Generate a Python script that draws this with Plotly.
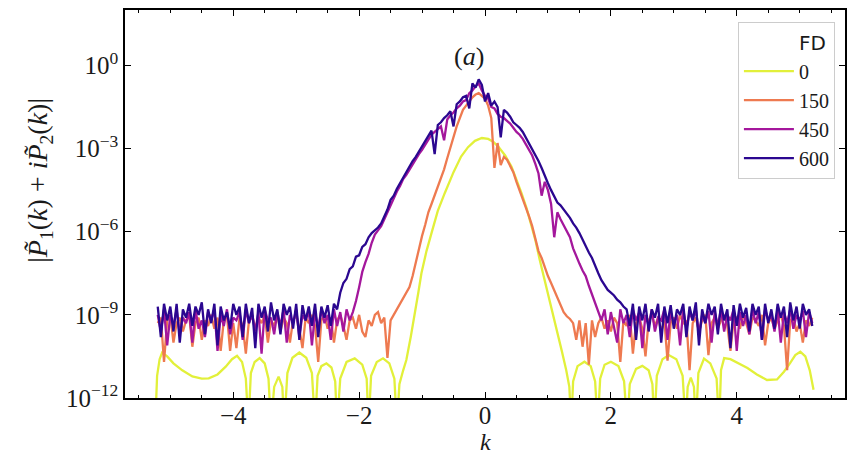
import numpy as np
import plotly.graph_objects as go

# ---------------- data (log10 of |P1~ + i P2~|) ----------------
STEP = 0.05  # sampling step in k of the noisy series

# FD = 600 (dark indigo)
BLUE_LEFT_K0 = -5.20
BLUE_LEFT = [-8.7, -9.8, -8.6, -9.2, -8.7, -9.6, -8.6, -10.0, -8.8, -9.1,
             -8.6, -9.4, -8.7, -9.0, -8.55, -9.7, -8.8, -9.3, -8.6, -10.1,
             -8.7, -9.2, -8.9, -9.5, -8.6, -9.0, -8.7, -9.8, -8.6, -9.3,
             -8.75, -10.2, -8.6, -9.1, -8.7, -9.6, -8.55, -9.2, -8.8, -9.7,
             -8.6, -9.0, -8.7, -9.5, -8.6, -9.9, -8.65, -9.2, -8.7, -9.4,
             -8.6, -9.8, -8.7, -9.1, -8.65, -9.4, -8.6, -8.8]
BLUE_PEAK_K0 = -2.30
BLUE_PEAK = [-8.2, -7.85, -7.7, -7.35, -7.25, -6.9, -6.85, -6.55, -6.45, -6.2,
             -6.05, -5.95, -5.85, -5.7, -5.45, -5.2, -4.85, -4.7, -4.45, -4.25,
             -4.0, -3.85, -3.65, -3.45, -3.3, -3.1, -2.95, -2.75, -2.55, -2.35,
             -3.2, -2.15, -2.05, -1.9, -1.8, -1.65, -2.2, -1.4, -1.3, -1.15,
             -1.1, -1.55, -0.65, -0.8, -0.5, -0.7, -1.3, -1.0, -1.45, -1.3,
             -1.5, -2.6, -1.6, -1.7, -1.85, -2.05, -2.15, -2.25, -2.4, -2.6,
             -2.8, -3.0, -3.2, -3.45, -3.7, -4.0, -4.25, -4.5, -4.7, -4.95,
             -5.05, -5.2, -5.35, -5.5, -5.7, -5.85, -6.05, -6.3, -6.5, -6.75,
             -6.95, -7.25, -7.5, -7.75, -7.95, -8.1, -8.2, -8.3, -8.45, -8.55, -8.7]
BLUE_RIGHT_K0 = 2.25
BLUE_RIGHT = [-8.8, -9.4, -8.6, -9.9, -8.7, -9.2, -8.6, -9.6, -8.8, -9.1,
              -8.6, -10.0, -8.7, -9.3, -8.65, -9.5, -8.8, -9.0, -8.6, -9.8,
              -8.7, -9.2, -8.55, -10.1, -8.8, -9.3, -8.6, -9.0, -8.7, -9.7,
              -8.6, -9.2, -8.8, -10.2, -8.65, -9.4, -8.6, -9.1, -8.75, -9.6,
              -8.6, -9.0, -8.7, -9.9, -8.6, -9.3, -8.8, -9.5, -8.6, -9.1,
              -8.7, -9.8, -8.55, -9.2, -8.7, -9.5, -8.6, -9.0, -8.8, -9.4]

# FD = 450 (magenta)
PURPLE_LEFT_K0 = -5.20
PURPLE_LEFT = [-9.0, -9.6, -8.8, -10.1, -9.0, -9.4, -8.8, -9.7, -9.1, -9.3,
               -8.9, -10.0, -8.8, -9.5, -9.2, -9.8, -8.9, -9.2, -8.8, -10.3,
               -9.0, -9.4, -8.8, -9.7, -9.1, -9.2, -8.9, -9.9, -8.8, -9.3,
               -9.0, -9.6, -8.9, -10.4, -8.8, -9.2, -9.1, -9.7, -8.9, -9.4,
               -8.8, -10.0, -9.0, -9.3, -8.8, -9.8, -9.0, -9.2, -8.85, -10.1,
               -8.9, -9.5, -8.8, -9.3, -9.0, -9.9, -8.8, -9.4, -8.9, -9.6,
               -8.8, -9.2]
PURPLE_PEAK_K0 = -2.10
PURPLE_PEAK = [-8.9, -8.5, -8.0, -7.45, -7.1, -6.8, -6.4, -6.1, -5.95, -5.8,
               -5.55, -5.3, -5.0, -4.8, -4.55, -4.35, -4.1, -3.95, -3.75, -3.55,
               -3.4, -3.2, -3.05, -2.85, -2.7, -2.5, -2.4, -2.3, -2.2, -2.7,
               -1.95, -1.8, -1.7, -1.55, -1.45, -1.3, -1.25, -1.0, -0.9, -0.75,
               -0.65, -0.9, -1.1, -1.2, -1.5, -1.55, -1.75, -1.85, -1.9, -2.0,
               -2.1, -2.25, -2.4, -2.5, -2.65, -2.85, -3.05, -3.25, -3.55, -3.9,
               -4.7, -4.2, -4.5, -5.0, -6.2, -5.3, -5.55, -5.75, -5.95, -6.2,
               -6.6, -6.9, -7.15, -7.4, -7.6, -7.95, -8.25, -8.6, -8.9]
PURPLE_RIGHT_K0 = 1.85
PURPLE_RIGHT = [-9.2, -8.8, -9.7, -8.9, -9.4, -10.0, -8.8, -9.3, -9.0, -9.8,
                -8.8, -9.2, -8.9, -10.2, -9.0, -9.4, -8.8, -9.6, -9.1, -9.2,
                -8.8, -9.9, -8.9, -9.3, -9.0, -10.1, -8.8, -9.5, -8.9, -9.2,
                -8.8, -9.7, -9.0, -9.3, -8.85, -10.0, -8.9, -9.4, -8.8, -9.6,
                -9.0, -9.2, -8.8, -10.3, -8.9, -9.4, -9.0, -9.7, -8.8, -9.3,
                -8.9, -9.9, -8.8, -9.2, -9.0, -9.6, -8.8, -10.0, -8.9, -9.3,
                -8.8, -9.5, -9.0, -9.2, -8.85, -9.8, -8.9, -9.3]

# FD = 150 (orange)
ORANGE_LEFT_K0 = -5.20
ORANGE_LEFT = [-9.3, -9.1, -10.7, -9.2, -9.0, -10.0, -9.3, -9.1, -9.6, -9.2,
               -9.0, -10.15, -9.3, -9.1, -9.9, -9.2, -9.4, -9.0, -9.5, -9.1,
               -10.3, -9.2, -9.0, -10.3, -9.3, -10.2, -9.1, -9.4, -10.4, -9.2,
               -9.0, -9.5, -9.1, -9.3, -9.0, -10.0, -9.2, -9.4, -9.0, -9.6,
               -9.1, -9.3, -10.0, -9.2, -9.0, -9.5, -10.2, -9.1, -9.3, -9.0,
               -9.4, -10.7, -9.2, -9.0, -9.5, -9.1, -10.0, -9.2, -9.0, -9.4,
               -9.9, -9.2, -9.1, -9.5, -9.0, -9.6, -9.8, -9.2, -9.4, -9.0,
               -8.9, -9.3, -9.1, -10.55, -9.2, -9.0, -8.85, -8.6]
ORANGE_PEAK_K0 = -1.30
ORANGE_PEAK = [-8.4, -8.2, -8.0, -7.6, -7.1, -6.6, -6.15, -5.75, -5.3, -5.0,
               -4.7, -4.4, -4.05, -3.75, -3.35, -2.95, -2.55, -2.2, -1.9, -1.6,
               -1.45, -1.3, -1.15, -1.05, -1.0, -1.1, -1.2, -1.45, -1.9, -3.7,
               -2.8, -3.6, -3.3, -3.4, -3.6, -3.85, -4.2, -4.5, -4.8, -5.15,
               -5.45, -5.8, -6.25, -6.7, -6.95, -7.3, -7.6, -7.85, -8.1, -8.4,
               -8.65, -8.9, -9.05]
ORANGE_RIGHT_K0 = 1.35
ORANGE_RIGHT = [-9.15, -9.3, -9.9, -9.2, -10.15, -9.3, -10.8, -9.2, -9.8, -9.3,
                -9.1, -9.5, -9.2, -9.6, -9.1, -9.3, -10.7, -9.2, -9.4, -9.0,
                -10.4, -9.3, -9.1, -9.5, -10.5, -9.2, -9.0, -9.4, -9.1, -9.6,
                -9.2, -10.65, -9.3, -9.1, -9.5, -9.0, -9.3, -9.2, -11.0, -9.3,
                -9.1, -9.6, -9.2, -9.0, -10.45, -9.3, -9.1, -9.5, -9.2, -9.0,
                -9.4, -10.3, -9.2, -9.1, -9.5, -9.0, -9.3, -9.7, -9.1, -9.2,
                -9.4, -9.0, -10.1, -9.3, -9.1, -9.5, -9.2, -9.0, -9.4, -11.0,
                -9.2, -9.1, -9.6, -9.3, -10.0, -9.2, -9.4, -9.1]

# FD = 0 (yellow): smooth main lobe with side lobes (k, log10 value)
YELLOW_K = [-5.24, -5.21, -5.17, -5.13, -5.05, -4.95, -4.81, -4.65, -4.50, -4.39,
            -4.25, -4.12, -4.02, -3.94, -3.86, -3.80, -3.76, -3.72, -3.66, -3.58,
            -3.50, -3.44, -3.40, -3.35, -3.28, -3.22, -3.19, -3.14, -3.06, -2.95,
            -2.84, -2.75, -2.70, -2.66, -2.60, -2.52, -2.44, -2.38, -2.35, -2.30,
            -2.20, -2.07, -1.95, -1.88, -1.85, -1.81, -1.72, -1.62, -1.52, -1.44,
            -1.40, -1.36, -1.30, -1.25, -1.18, -1.11, -1.06, -1.01, -0.93, -0.85,
            -0.75, -0.64, -0.50, -0.38, -0.27, -0.16, -0.05, 0.05, 0.13, 0.21,
            0.32, 0.42, 0.50, 0.58, 0.66, 0.73, 0.80, 0.87, 0.95, 1.03,
            1.10, 1.16, 1.22, 1.29, 1.34, 1.37, 1.40, 1.47, 1.58, 1.68,
            1.75, 1.79, 1.83, 1.90, 2.00, 2.12, 2.21, 2.26, 2.30, 2.40,
            2.50, 2.60, 2.66, 2.69, 2.73, 2.82, 2.92, 3.04, 3.14, 3.19,
            3.22, 3.27, 3.32, 3.35, 3.39, 3.48, 3.58, 3.68, 3.72, 3.75,
            3.80, 3.90, 4.03, 4.17, 4.32, 4.48, 4.64, 4.75, 4.85, 4.93,
            5.01, 5.09, 5.16, 5.22]
YELLOW_L = [-13.0, -11.2, -10.6, -10.36, -10.5, -10.75, -11.0, -11.22, -11.3, -11.29,
            -11.15, -10.87, -10.6, -10.48, -10.7, -11.3, -13.0, -11.1, -10.7, -10.56,
            -10.75, -11.3, -13.0, -11.6, -11.23, -11.6, -13.0, -11.1, -10.55, -10.36,
            -10.55, -11.1, -13.0, -11.2, -10.85, -10.75, -10.9, -11.4, -13.0, -11.3,
            -10.7, -10.57, -10.8, -11.3, -13.0, -11.2, -10.7, -10.57, -10.75, -11.3,
            -13.0, -11.5, -11.0, -10.63, -9.8, -8.94, -8.2, -7.5, -6.7, -6.05,
            -5.25, -4.61, -3.85, -3.29, -2.95, -2.72, -2.62, -2.65, -2.75, -2.93,
            -3.25, -3.65, -4.1, -4.61, -5.15, -5.69, -6.3, -7.02, -7.75, -8.46,
            -9.1, -9.66, -10.3, -10.99, -11.6, -13.0, -11.4, -10.85, -10.69, -10.85,
            -11.4, -13.0, -11.3, -10.8, -10.69, -10.85, -11.4, -13.0, -11.5, -10.95,
            -10.84, -11.0, -11.5, -13.0, -11.2, -10.6, -10.45, -10.6, -11.2, -13.0,
            -11.6, -11.26, -11.6, -13.0, -11.1, -10.58, -10.75, -11.3, -13.0, -11.0,
            -10.56, -10.6, -10.75, -10.92, -11.15, -11.35, -11.33, -11.05, -10.73, -10.45,
            -10.33, -10.5, -11.0, -11.7]

FD_LABELS = ["0", "150", "450", "600"]
COLORS = ["#e2f03a", "#ee7a50", "#a4179c", "#2b0790"]

X_TICKS = [-4, -2, 0, 2, 4]
Y_TICKS = [1e-12, 1e-9, 1e-6, 1e-3, 1e0]
Y_TICK_TEXT = ["10<sup>\u221212</sup>", "10<sup>\u22129</sup>", "10<sup>\u22126</sup>",
               "10<sup>\u22123</sup>", "10<sup>0</sup>"]


def build(segments):
    ks, vs = [], []
    for k0, vals in segments:
        for j, v in enumerate(vals):
            ks.append(round(k0 + STEP * j, 3))
            vs.append(10.0 ** v)
    return ks, vs


yk, yv = YELLOW_K, [10.0 ** v for v in YELLOW_L]
ok, ov = build([(ORANGE_LEFT_K0, ORANGE_LEFT), (ORANGE_PEAK_K0, ORANGE_PEAK), (ORANGE_RIGHT_K0, ORANGE_RIGHT)])
pk, pv = build([(PURPLE_LEFT_K0, PURPLE_LEFT), (PURPLE_PEAK_K0, PURPLE_PEAK), (PURPLE_RIGHT_K0, PURPLE_RIGHT)])
bk, bv = build([(BLUE_LEFT_K0, BLUE_LEFT), (BLUE_PEAK_K0, BLUE_PEAK), (BLUE_RIGHT_K0, BLUE_RIGHT)])

SERIF = "Liberation Serif"
TXT = "#1a1a1a"

fig = go.Figure()
# legend header entry "FD" (no visible line)
fig.add_trace(go.Scatter(x=[None], y=[None], mode="lines",
                         name='<span style="font-family:DejaVu Sans">FD</span>',
                         line=dict(color="rgba(0,0,0,0)", width=2), legendgroup="g0", hoverinfo="skip"))
for i, (kx, vy) in enumerate([(yk, yv), (ok, ov), (pk, pv), (bk, bv)]):
    fig.add_trace(go.Scatter(x=kx, y=vy, mode="lines", name=FD_LABELS[i],
                             line=dict(color=COLORS[i], width=2.3), legendgroup="g%d" % (i + 1)))

axis_common = dict(showline=True, linecolor="black", linewidth=1.5, mirror="allticks",
                   ticks="inside", ticklen=6, tickwidth=1.2, tickcolor="black",
                   showgrid=False, zeroline=False)

fig.update_xaxes(range=[-5.72, 5.72], tickvals=X_TICKS, ticklabelstandoff=-6,
                 tickfont=dict(family=SERIF, size=25, color=TXT),
                 minor=dict(dtick=0.5, tick0=0, ticks="inside", ticklen=3, tickcolor="black", showgrid=False),
                 **axis_common)
fig.update_yaxes(type="log", range=[-12, 2], tickvals=Y_TICKS, ticktext=Y_TICK_TEXT,
                 tickfont=dict(family=SERIF, size=25, color=TXT), **axis_common)

fig.update_layout(
    width=853, height=457,
    margin=dict(l=125, r=6, t=10, b=59),
    plot_bgcolor="white", paper_bgcolor="white",
    showlegend=True,
    legend=dict(x=0.986, y=0.97, xanchor="right", yanchor="top",
                bgcolor="rgba(255,255,255,0.9)", bordercolor="#cccccc", borderwidth=1,
                font=dict(family=SERIF, size=20, color=TXT), itemwidth=50,
                tracegroupgap=2, traceorder="normal"),
    annotations=[
        dict(text="(<i>a</i>)", xref="paper", yref="paper", x=0.478, y=0.923,
             showarrow=False, font=dict(family=SERIF, size=26, color=TXT)),
        dict(text="<i>k</i>", xref="paper", yref="paper", x=0.5, y=-0.113,
             xanchor="center", yanchor="middle", showarrow=False,
             font=dict(family=SERIF, size=24, color=TXT)),
        dict(text="|<i>P\u0303</i><sub>1</sub>(<i>k</i>) + <i>i</i><i>P\u0303</i><sub>2</sub>(<i>k</i>)|",
             xref="paper", yref="paper", x=-0.118, y=0.56, xanchor="center", yanchor="middle",
             textangle=-90, showarrow=False, font=dict(family=SERIF, size=28, color=TXT)),
    ],
)

fig.write_html("out.html")
